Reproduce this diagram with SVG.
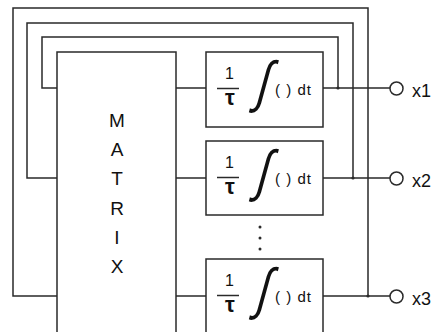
<svg xmlns="http://www.w3.org/2000/svg" width="437" height="332" viewBox="0 0 437 332">
<style>
.w{fill:none;stroke:#2a2a2a;stroke-width:1.5}
.b{fill:#fff;stroke:#2a2a2a;stroke-width:1.5}
.t{font-family:"Liberation Sans",Arial,sans-serif;fill:#111}
.m{font-size:19px;text-anchor:middle}
.one{font-size:16px;text-anchor:middle}
.tau{font-size:22px;font-weight:bold;text-anchor:middle}
.int{font-family:"Liberation Sans",Arial,sans-serif;font-size:50px;fill:#111}
.dt{font-size:15px}
.o{font-size:18px}
.d{fill:#2a2a2a}
</style>
<defs>
<g id="intg">
<line x1="11" y1="36.5" x2="33" y2="36.5" class="w"/>
<text x="23.5" y="27" class="t one">1</text>
<text x="24" y="53" class="t tau">τ</text>
<text class="int" transform="translate(48 48.5) scale(0.85 1.12) skewX(-20)">∫</text>
<text x="69" y="43" class="t dt" textLength="36" lengthAdjust="spacing">( ) dt</text>
</g>
</defs>
<g id="connectors">
<path class="w" d="M57 296 H13 V8 H368 V296"/>
<path class="w" d="M57 178 H27 V23 H353 V178"/>
<path class="w" d="M57 88 H42 V37 H338 V88"/>
<path class="w" d="M176 88 H206 M176 178 H206 M176 296 H206"/>
<path class="w" d="M323 88 H390 M323 178 H390 M323 296 H390"/>
<circle class="d" cx="338" cy="88" r="1.6"/>
<circle class="d" cx="353" cy="178" r="1.6"/>
<circle class="d" cx="368" cy="296" r="1.6"/>
</g>
<g id="matrix">
<rect class="b" x="57" y="52" width="119" height="300"/>
<text class="t m" x="117" y="127">M</text>
<text class="t m" x="117" y="156">A</text>
<text class="t m" x="117" y="185">T</text>
<text class="t m" x="117" y="214.5">R</text>
<text class="t m" x="117" y="243.5">I</text>
<text class="t m" x="117" y="273">X</text>
</g>
<g id="int1">
<rect class="b" x="206" y="52" width="117" height="75"/>
<use href="#intg" x="206" y="52"/>
</g>
<g id="int2">
<rect class="b" x="206" y="141" width="117" height="74"/>
<use href="#intg" x="206" y="141"/>
</g>
<g id="dots">
<circle class="d" cx="260" cy="227" r="1.5"/>
<circle class="d" cx="260" cy="238" r="1.5"/>
<circle class="d" cx="260" cy="249" r="1.5"/>
</g>
<g id="int3">
<rect class="b" x="206" y="259" width="117" height="80"/>
<use href="#intg" x="206" y="259"/>
</g>
<g id="out1">
<circle class="b" cx="396.5" cy="88.5" r="6.5"/>
<text class="t o" x="412" y="97">x1</text>
</g>
<g id="out2">
<circle class="b" cx="396.5" cy="178.5" r="6.5"/>
<text class="t o" x="412" y="187">x2</text>
</g>
<g id="out3">
<circle class="b" cx="396.5" cy="296.5" r="6.5"/>
<text class="t o" x="412" y="305">x3</text>
</g>
</svg>
